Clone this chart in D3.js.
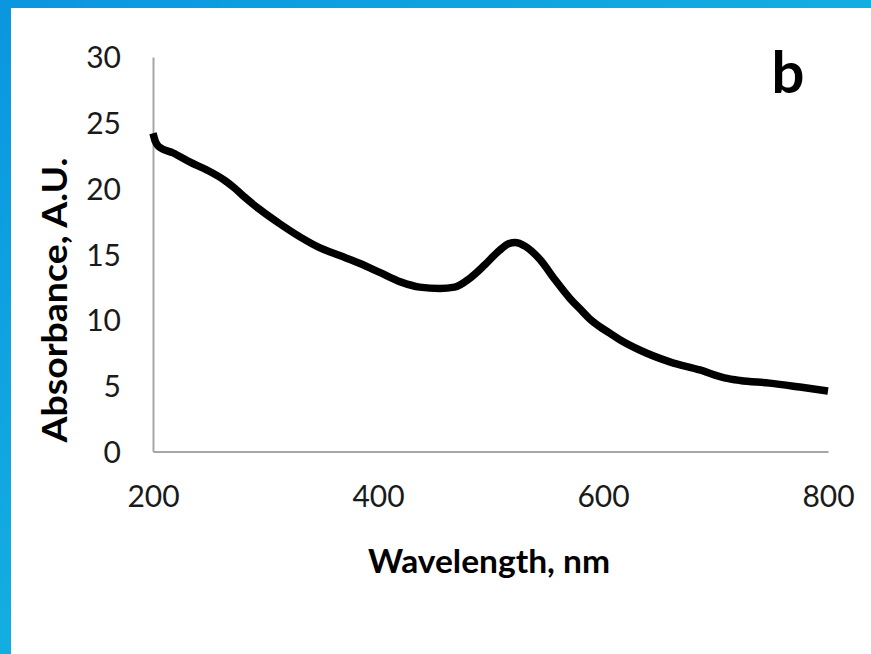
<!DOCTYPE html>
<html>
<head>
<meta charset="utf-8">
<script src="https://cdn.jsdelivr.net/npm/d3@7"></script>
<style>
  body { margin: 0; background: #fff; }
  svg { display: block; }
</style>
</head>
<body>
<svg id="chart" width="871" height="654"></svg>
<script>
// absorbance spectrum
const wavelength = [200, 202, 205, 218, 233, 248, 264, 273, 282, 295, 313, 331, 348, 366, 384, 402,
  420, 437, 455, 468, 482, 495, 508, 516, 522, 531, 544, 557, 571, 580, 588, 597, 606, 615, 633,
  660, 686, 708, 722, 748, 775, 800];
const absorbance = [24.2, 23.6, 23.2, 22.7, 22.0, 21.4, 20.6, 20.0, 19.3, 18.4, 17.3, 16.3, 15.5, 14.9, 14.3, 13.6,
  12.9, 12.5, 12.4, 12.5, 13.2, 14.2, 15.3, 15.8, 15.9, 15.6, 14.6, 13.1, 11.6, 10.8, 10.1, 9.5, 9.0, 8.5, 7.7,
  6.8, 6.2, 5.6, 5.4, 5.2, 4.9, 4.6];
const xTicks = [200, 400, 600, 800];
const yTicks = [0, 5, 10, 15, 20, 25, 30];

const svg = d3.select("#chart");

// blue frame on the left and top
const grad = svg.append("defs").append("linearGradient")
  .attr("id", "frame").attr("x1", "0").attr("y1", "0").attr("x2", "1").attr("y2", "1");
grad.append("stop").attr("offset", "0%").attr("stop-color", "#0a96e0");
grad.append("stop").attr("offset", "100%").attr("stop-color", "#1cc6e2");
svg.append("rect").attr("width", 871).attr("height", 654).attr("fill", "url(#frame)");
svg.append("rect").attr("x", 11).attr("y", 8).attr("width", 860).attr("height", 646).attr("fill", "#fff");

const x = d3.scaleLinear().domain([200, 800]).range([153, 828]);
const y = d3.scaleLinear().domain([0, 30]).range([451.5, 57]);

const font = "Lato, 'Open Sans', sans-serif";

const xAxis = svg.append("g")
  .attr("transform", "translate(0," + y(0) + ")")
  .call(d3.axisBottom(x).tickValues(xTicks).tickSize(0).tickPadding(34).tickFormat(d3.format("d")));
const yAxis = svg.append("g")
  .attr("transform", "translate(" + x(200) + ",0)")
  .call(d3.axisLeft(y).tickValues(yTicks).tickSize(0).tickPadding(32).tickFormat(d3.format("d")));

[xAxis, yAxis].forEach(a => {
  a.select(".domain").attr("stroke", "#a6a6a6").attr("stroke-width", 2);
  a.selectAll("text").attr("font-family", font).attr("font-size", 30).attr("fill", "#1a1a1a");
});
yAxis.selectAll("text").attr("dy", "0.36em");

svg.append("path")
  .datum(wavelength.map((w, i) => [w, absorbance[i]]))
  .attr("fill", "none")
  .attr("stroke", "#000")
  .attr("stroke-width", 7.5)
  .attr("stroke-linejoin", "round")
  .attr("stroke-linecap", "butt")
  .attr("d", d3.line().x(d => x(d[0])).y(d => y(d[1])).curve(d3.curveMonotoneX));

svg.append("text")
  .attr("x", 489).attr("y", 573)
  .attr("text-anchor", "middle")
  .attr("font-family", font).attr("font-weight", "bold").attr("font-size", 32)
  .attr("textLength", 242).attr("lengthAdjust", "spacingAndGlyphs")
  .text("Wavelength, nm");

svg.append("text")
  .attr("transform", "translate(67,300) rotate(-90)")
  .attr("text-anchor", "middle")
  .attr("font-family", font).attr("font-weight", "bold").attr("font-size", 34)
  .attr("textLength", 285).attr("lengthAdjust", "spacingAndGlyphs")
  .text("Absorbance, A.U.");

svg.append("text")
  .attr("x", 788).attr("y", 93)
  .attr("text-anchor", "middle")
  .attr("font-family", font).attr("font-weight", "bold").attr("font-size", 58)
  .text("b");
</script>
</body>
</html>
